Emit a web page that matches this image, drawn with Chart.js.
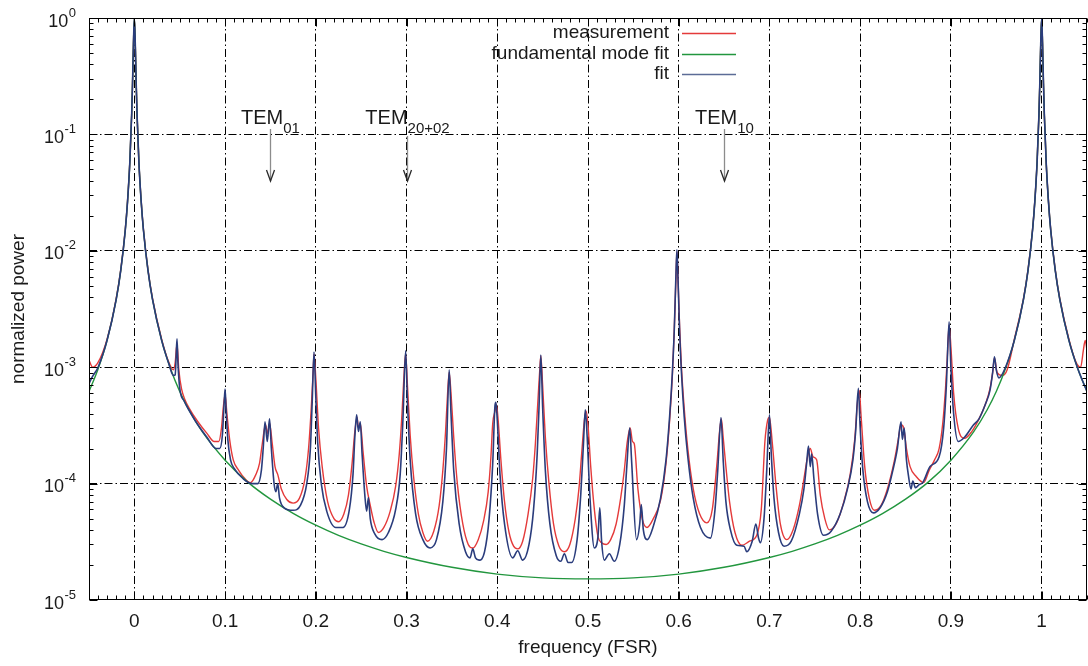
<!DOCTYPE html>
<html>
<head>
<meta charset="utf-8">
<script src="https://cdn.jsdelivr.net/npm/chart.js@4/dist/chart.umd.min.js"></script>
<style>
html,body{margin:0;padding:0;background:#fff;}
#wrap{width:1088px;height:666px;}
</style>
</head>
<body>
<div id="wrap"><canvas id="c" width="1088" height="666"></canvas></div>
<script>
// ---------------- data ----------------
const seriesNames = ['measurement', 'fundamental mode fit', 'fit'];

const xTickValues = [0, 0.1, 0.2, 0.3, 0.4, 0.5, 0.6, 0.7, 0.8, 0.9, 1];
const xTickLabels = ['0', '0.1', '0.2', '0.3', '0.4', '0.5', '0.6', '0.7', '0.8', '0.9', '1'];
const yTickValues = [1e-5, 1e-4, 1e-3, 1e-2, 1e-1, 1];
const yTickExponents = ['-5', '-4', '-3', '-2', '-1', '0'];

const annotFreq = [0.15, 0.3, 0.65];
const annotMain = ['TEM', 'TEM', 'TEM'];
const annotSub = ['01', '20+02', '10'];

// fundamental mode fit (green)
const fundFreq = [
  -0.05,-0.04,-0.03,-0.02,-0.015,-0.01,-0.0075,-0.005,-0.003,-0.002,
  -0.001,0,0.001,0.002,0.003,0.005,0.0075,0.01,0.015,0.02,
  0.03,0.04,0.05,0.06,0.075,0.1,0.125,0.15,0.175,0.2,
  0.225,0.25,0.275,0.3,0.35,0.4,0.45,0.5,0.55,0.6,
  0.65,0.7,0.725,0.75,0.775,0.8,0.825,0.85,0.875,0.9,
  0.925,0.94,0.95,0.96,0.97,0.98,0.985,0.99,0.9925,0.995,
  0.997,0.998,0.999,1,1.001,1.002,1.003,1.005,1.0075,1.01,
  1.015,1.02,1.03,1.04,1.05
];
const fundPower = [
  6.18e-4,9.64e-4,1.71e-3,3.83e-3,6.78e-3,1.51e-2,2.66e-2,5.78e-2,0.146,0.277,
  0.605,1,0.605,0.277,0.146,5.78e-2,2.66e-2,1.51e-2,6.78e-3,3.83e-3,
  1.71e-3,9.64e-4,6.18e-4,4.31e-4,2.78e-4,1.59e-4,1.03e-4,7.35e-5,5.55e-5,4.39e-5,
  3.59e-5,3.03e-5,2.62e-5,2.32e-5,1.91e-5,1.67e-5,1.55e-5,1.52e-5,1.55e-5,1.67e-5,
  1.91e-5,2.32e-5,2.62e-5,3.03e-5,3.59e-5,4.39e-5,5.55e-5,7.35e-5,1.03e-4,1.59e-4,
  2.78e-4,4.31e-4,6.18e-4,9.64e-4,1.71e-3,3.83e-3,6.78e-3,1.51e-2,2.66e-2,5.78e-2,
  0.146,0.277,0.605,1,0.605,0.277,0.146,5.78e-2,2.66e-2,1.51e-2,
  6.78e-3,3.83e-3,1.71e-3,9.64e-4,6.18e-4
];

// fit (blue)
const fitFreq = [
  -0.05,-0.047,-0.04,-0.03,-0.02,-0.015,-0.01,-0.0075,-0.005,-0.003,
  -0.002,-0.001,0,0.001,0.002,0.003,0.005,0.0075,0.01,0.015,
  0.02,0.03,0.038,0.043,0.045,0.046,0.047,0.048,0.05,0.055,
  0.06,0.07,0.08,0.09,0.094,0.097,0.099,0.1,0.101,0.103,
  0.106,0.11,0.12,0.13,0.136,0.14,0.142,0.144,0.1465,0.149,
  0.151,0.154,0.156,0.158,0.16,0.165,0.175,0.183,0.19,0.194,
  0.196,0.198,0.2,0.202,0.206,0.212,0.222,0.23,0.237,0.241,
  0.243,0.245,0.247,0.249,0.251,0.254,0.256,0.258,0.26,0.265,
  0.273,0.28,0.288,0.293,0.296,0.299,0.301,0.304,0.31,0.318,
  0.326,0.333,0.34,0.344,0.347,0.349,0.352,0.358,0.365,0.37,
  0.373,0.376,0.38,0.386,0.391,0.395,0.3975,0.3985,0.4,0.403,
  0.408,0.417,0.4225,0.428,0.435,0.44,0.444,0.446,0.448,0.45,
  0.453,0.458,0.465,0.47,0.474,0.478,0.482,0.488,0.492,0.495,
  0.497,0.499,0.502,0.507,0.511,0.513,0.515,0.518,0.5235,0.529,
  0.535,0.54,0.543,0.546,0.548,0.5535,0.557,0.5587,0.561,0.5653,
  0.572,0.58,0.586,0.59,0.593,0.595,0.597,0.598,0.599,0.601,
  0.603,0.606,0.61,0.616,0.624,0.635,0.64,0.643,0.6466,0.649,
  0.652,0.657,0.664,0.672,0.675,0.681,0.685,0.688,0.69,0.694,
  0.697,0.7,0.702,0.705,0.71,0.716,0.724,0.733,0.738,0.741,
  0.743,0.745,0.7465,0.749,0.753,0.7596,0.768,0.778,0.786,0.792,
  0.795,0.798,0.8,0.803,0.808,0.8145,0.822,0.83,0.836,0.841,
  0.845,0.8465,0.8485,0.851,0.853,0.856,0.858,0.861,0.865,0.869,
  0.877,0.887,0.892,0.895,0.898,0.9,0.903,0.908,0.915,0.925,
  0.931,0.938,0.943,0.946,0.948,0.95,0.953,0.96,0.97,0.98,
  0.985,0.99,0.9925,0.995,0.997,0.998,0.999,1,1.001,1.002,
  1.003,1.005,1.0075,1.01,1.015,1.02,1.03,1.04,1.05
];
const fitPower = [
  7.2e-4,8.1e-4,1.0e-3,1.71e-3,3.83e-3,6.78e-3,1.51e-2,2.66e-2,5.78e-2,0.146,
  0.277,0.605,1.0,0.605,0.277,0.146,5.78e-2,2.66e-2,1.51e-2,6.78e-3,
  3.83e-3,1.71e-3,1.07e-3,8.5e-4,8.6e-4,1.2e-3,1.75e-3,1.1e-3,6.6e-4,5.1e-4,
  4.31e-4,3.2e-4,2.5e-4,2.0e-4,2.0e-4,2.6e-4,5.0e-4,6.5e-4,4.5e-4,2.4e-4,
  1.6e-4,1.35e-4,1.1e-4,1.0e-4,1.0e-4,1.3e-4,2.0e-4,3.4e-4,2.3e-4,3.6e-4,
  2.0e-4,1.0e-4,8.5e-5,1.0e-4,7.5e-5,6.2e-5,5.9e-5,6.5e-5,1.0e-4,2.0e-4,
  5.0e-4,1.35e-3,5.5e-4,2.3e-4,1.0e-4,5.8e-5,4.2e-5,4.2e-5,6.0e-5,1.2e-4,
  2.5e-4,3.9e-4,2.8e-4,3.4e-4,1.8e-4,8.0e-5,5.8e-5,7.6e-5,5.0e-5,3.7e-5,
  3.3e-5,3.8e-5,6.0e-5,1.2e-4,3.5e-4,1.38e-3,5.0e-4,1.6e-4,5.5e-5,3.3e-5,
  2.8e-5,3.3e-5,7.0e-5,2.0e-4,9.5e-4,4.0e-4,1.3e-4,4.5e-5,2.6e-5,2.3e-5,
  2.75e-5,2.3e-5,2.2e-5,2.6e-5,5.0e-5,1.5e-4,4.7e-4,5.0e-4,3.5e-4,1.2e-4,
  4.5e-5,2.3e-5,2.65e-5,2.2e-5,3.0e-5,6.0e-5,1.8e-4,4.5e-4,1.27e-3,4.5e-4,
  1.3e-4,4.5e-5,2.4e-5,2.15e-5,2.5e-5,2.1e-5,2.1e-5,3.3e-5,8.0e-5,2.2e-4,
  4.3e-4,2.6e-4,8.0e-5,2.8e-5,3.5e-5,6.2e-5,3.2e-5,2.2e-5,2.5e-5,2.15e-5,
  3.0e-5,6.5e-5,1.5e-4,3.0e-4,1.6e-4,3.3e-5,4.5e-5,6.6e-5,4.0e-5,3.3e-5,
  4.3e-5,7.5e-5,1.6e-4,3.8e-4,9.0e-4,2.0e-3,6.5e-3,1.02e-2,6.5e-3,2.0e-3,
  9.0e-4,3.8e-4,1.7e-4,7.5e-5,4.2e-5,3.4e-5,6.0e-5,1.3e-4,3.7e-4,1.6e-4,
  7.0e-5,4.0e-5,2.95e-5,2.9e-5,2.6e-5,3.2e-5,4.5e-5,3.4e-5,3.1e-5,5.0e-5,
  1.3e-4,3.9e-4,1.8e-4,7.5e-5,3.8e-5,2.9e-5,3.2e-5,5.5e-5,9.0e-5,1.5e-4,
  2.1e-4,1.4e-4,1.8e-4,1.1e-4,5.5e-5,3.6e-5,3.9e-5,5.5e-5,9.0e-5,1.6e-4,
  2.8e-4,6.6e-4,3.0e-4,1.3e-4,7.0e-5,5.6e-5,6.2e-5,8.5e-5,1.3e-4,2.0e-4,
  3.4e-4,2.4e-4,3.0e-4,1.6e-4,1.2e-4,9.0e-5,1.05e-4,9.2e-5,9.8e-5,1.02e-4,
  1.4e-4,1.7e-4,3.0e-4,7.0e-4,2.45e-3,1.0e-3,4.0e-4,2.3e-4,2.5e-4,3.2e-4,
  3.6e-4,4.8e-4,6.3e-4,9.0e-4,1.23e-3,9.5e-4,8.1e-4,9.9e-4,1.71e-3,3.83e-3,
  6.78e-3,1.51e-2,2.66e-2,5.78e-2,0.146,0.277,0.605,1.0,0.605,0.277,
  0.146,5.78e-2,2.66e-2,1.51e-2,6.78e-3,3.83e-3,1.71e-3,9.64e-4,6.18e-4
];

// measurement (red)
const measFreq = [
  -0.05,-0.046,-0.04,-0.03,-0.02,-0.015,-0.01,-0.0075,-0.005,-0.003,
  -0.002,-0.001,0,0.001,0.002,0.003,0.005,0.0075,0.01,0.015,
  0.02,0.03,0.038,0.043,0.045,0.047,0.049,0.052,0.056,0.06,
  0.07,0.08,0.088,0.093,0.096,0.098,0.1,0.102,0.105,0.109,
  0.115,0.122,0.128,0.134,0.138,0.141,0.1445,0.147,0.149,0.152,
  0.155,0.158,0.162,0.168,0.175,0.182,0.188,0.192,0.195,0.197,
  0.198,0.2,0.203,0.207,0.213,0.22,0.225,0.231,0.236,0.24,
  0.243,0.2455,0.247,0.249,0.252,0.256,0.26,0.264,0.269,0.275,
  0.282,0.288,0.292,0.295,0.297,0.299,0.301,0.304,0.308,0.313,
  0.318,0.323,0.33,0.336,0.34,0.343,0.345,0.347,0.349,0.352,
  0.356,0.362,0.368,0.373,0.379,0.385,0.39,0.393,0.395,0.3975,
  0.399,0.401,0.404,0.408,0.413,0.418,0.4226,0.428,0.434,0.439,
  0.442,0.445,0.447,0.448,0.45,0.453,0.457,0.462,0.468,0.474,
  0.48,0.486,0.49,0.493,0.496,0.498,0.5,0.503,0.507,0.511,
  0.515,0.52,0.525,0.531,0.536,0.54,0.543,0.5465,0.549,0.551,
  0.555,0.56,0.565,0.572,0.58,0.586,0.59,0.593,0.595,0.597,
  0.598,0.599,0.601,0.603,0.606,0.61,0.616,0.623,0.631,0.637,
  0.642,0.645,0.647,0.649,0.652,0.656,0.662,0.6696,0.678,0.686,
  0.691,0.695,0.698,0.7,0.703,0.707,0.712,0.719,0.726,0.733,
  0.738,0.742,0.745,0.748,0.752,0.756,0.761,0.766,0.774,0.782,
  0.789,0.794,0.797,0.799,0.801,0.805,0.81,0.8156,0.823,0.83,
  0.8375,0.842,0.845,0.848,0.851,0.855,0.8617,0.87,0.876,0.882,
  0.887,0.891,0.894,0.896,0.898,0.9,0.903,0.908,0.915,0.923,
  0.931,0.938,0.943,0.946,0.948,0.951,0.957,0.962,0.97,0.98,
  0.985,0.99,0.9925,0.995,0.997,0.998,0.999,1,1.001,1.002,
  1.003,1.005,1.0075,1.01,1.015,1.02,1.03,1.038,1.043,1.046,
  1.048,1.05
];
const measPower = [
  1.15e-3,1.0e-3,1.1e-3,1.75e-3,3.9e-3,6.9e-3,1.53e-2,2.7e-2,5.8e-2,0.146,
  0.277,0.6,0.98,0.6,0.277,0.146,5.8e-2,2.7e-2,1.53e-2,6.9e-3,
  3.9e-3,1.75e-3,1.1e-3,9.5e-4,1.1e-3,1.6e-3,9.5e-4,6.5e-4,5.2e-4,4.5e-4,
  3.4e-4,2.7e-4,2.3e-4,2.3e-4,3.0e-4,4.5e-4,5.8e-4,4.0e-4,2.4e-4,1.6e-4,
  1.3e-4,1.1e-4,1.02e-4,1.2e-4,1.5e-4,2.2e-4,3.2e-4,2.7e-4,3.3e-4,2.2e-4,
  1.4e-4,1.2e-4,9.0e-5,7.3e-5,6.8e-5,7.5e-5,1.1e-4,2.0e-4,4.5e-4,9.0e-4,
  1.3e-3,8.0e-4,3.0e-4,1.4e-4,7.0e-5,5.0e-5,4.7e-5,5.5e-5,8.0e-5,1.5e-4,
  2.8e-4,3.7e-4,3.0e-4,3.3e-4,1.9e-4,9.5e-5,6.5e-5,4.7e-5,3.8e-5,4.2e-5,
  5.8e-5,9.5e-5,1.8e-4,4.0e-4,8.0e-4,1.3e-3,7.0e-4,2.6e-4,1.1e-4,5.5e-5,
  3.8e-5,3.2e-5,3.9e-5,6.5e-5,1.3e-4,2.8e-4,5.5e-4,9.0e-4,6.0e-4,2.5e-4,
  1.0e-4,4.5e-5,3.0e-5,2.8e-5,3.3e-5,4.8e-5,8.5e-5,1.7e-4,3.3e-4,4.2e-4,
  4.8e-4,3.5e-4,1.6e-4,7.0e-5,3.8e-5,2.9e-5,2.75e-5,3.2e-5,5.5e-5,1.1e-4,
  2.2e-4,5.5e-4,1.0e-3,1.25e-3,7.0e-4,2.5e-4,1.0e-4,4.5e-5,2.9e-5,2.6e-5,
  3.0e-5,5.0e-5,9.0e-5,1.8e-4,3.5e-4,4.2e-4,3.2e-4,1.4e-4,6.0e-5,3.5e-5,
  3.1e-5,3.0e-5,3.3e-5,4.5e-5,7.5e-5,1.3e-4,2.2e-4,3.0e-4,2.3e-4,2.2e-4,
  9.0e-5,4.9e-5,4.2e-5,5.0e-5,7.2e-5,1.5e-4,3.5e-4,8.5e-4,2.0e-3,6.0e-3,
  9.8e-3,6.5e-3,2.2e-3,1.0e-3,4.5e-4,2.0e-4,9.0e-5,5.5e-5,4.6e-5,6.0e-5,
  1.45e-4,2.8e-4,3.6e-4,2.5e-4,1.4e-4,7.0e-5,3.8e-5,2.95e-5,3.2e-5,3.6e-5,
  6.0e-5,2.3e-4,3.5e-4,3.7e-4,2.3e-4,1.0e-4,4.5e-5,3.3e-5,4.0e-5,6.5e-5,
  1.1e-4,1.7e-4,2.0e-4,1.7e-4,1.6e-4,8.0e-5,5.0e-5,4.0e-5,4.6e-5,7.0e-5,
  1.2e-4,2.4e-4,5.0e-4,6.3e-4,3.8e-4,1.4e-4,7.5e-5,5.9e-5,6.5e-5,9.0e-5,
  1.55e-4,2.4e-4,3.2e-4,3.0e-4,2.0e-4,1.4e-4,1.15e-4,1.02e-4,1.3e-4,1.6e-4,
  2.0e-4,3.3e-4,6.5e-4,1.2e-3,2.3e-3,1.5e-3,6.0e-4,3.0e-4,2.45e-4,2.8e-4,
  3.6e-4,4.8e-4,6.5e-4,9.0e-4,1.2e-3,9.0e-4,8.5e-4,9.5e-4,1.75e-3,3.9e-3,
  6.9e-3,1.53e-2,2.7e-2,5.8e-2,0.146,0.277,0.6,0.98,0.6,0.277,
  0.146,5.8e-2,2.7e-2,1.53e-2,6.9e-3,3.9e-3,1.75e-3,1.1e-3,1.0e-3,1.4e-3,
  1.7e-3,1.4e-3
];

// ---------------- styling ----------------
const FAM = "'Liberation Sans', Arial, Helvetica, sans-serif";
const TXT = '#1a1a1a';
const COL_MEAS = 'rgb(228,58,58)';
const COL_FUND = 'rgb(34,150,62)';
const COL_FIT = 'rgb(42,60,124)';
const GRID_DASH = [8, 3, 1.5, 3];

function pts(xs, ys) { return xs.map((v, i) => ({ x: v, y: ys[i] })); }

const decor = {
  id: 'decor',
  afterDraw(chart) {
    const { ctx, chartArea: a, scales: { x, y } } = chart;
    ctx.save();
    ctx.strokeStyle = '#000';
    ctx.lineWidth = 1;
    ctx.setLineDash([]);
    const L = Math.round(a.left) + 0.5, R = Math.round(a.right) - 0.5;
    const T = Math.round(a.top) + 0.5, B = Math.round(a.bottom) - 0.5;
    ctx.strokeRect(L, T, R - L, B - T);
    ctx.beginPath();
    for (let k = -5; k <= 105; k++) {
      const px = Math.round(x.getPixelForValue(k / 100)) + 0.5;
      const len = (k % 10 === 0) ? 8 : 4;
      ctx.moveTo(px, B); ctx.lineTo(px, B - len);
      ctx.moveTo(px, T); ctx.lineTo(px, T + len);
    }
    for (let e = -5; e <= 0; e++) {
      for (let m = 1; m <= 9; m++) {
        const v = m * Math.pow(10, e);
        if (v > 1.0000001) break;
        const py = Math.round(y.getPixelForValue(v)) + 0.5;
        const len = (m === 1) ? 8 : 4;
        ctx.moveTo(L, py); ctx.lineTo(L + len, py);
        ctx.moveTo(R, py); ctx.lineTo(R - len, py);
      }
    }
    ctx.stroke();

    // y tick labels 10^n
    ctx.fillStyle = TXT;
    ctx.textBaseline = 'alphabetic';
    for (let i = 0; i < yTickValues.length; i++) {
      const py = y.getPixelForValue(yTickValues[i]);
      const xr = a.left - 13;
      ctx.font = '13px ' + FAM;
      const ew = ctx.measureText(yTickExponents[i]).width;
      ctx.textAlign = 'left';
      ctx.fillText(yTickExponents[i], xr - ew, py - 1.5);
      ctx.font = '18px ' + FAM;
      ctx.textAlign = 'right';
      ctx.fillText('10', xr - ew - 0.5, py + 8.5);
    }

    // annotations
    for (let i = 0; i < annotFreq.length; i++) {
      const px = Math.round(x.getPixelForValue(annotFreq[i])) + 0.5;
      ctx.font = '20px ' + FAM;
      const w1 = ctx.measureText(annotMain[i]).width;
      ctx.font = '15px ' + FAM;
      const w2 = ctx.measureText(annotSub[i]).width;
      const x0 = px - (w1 + w2) / 2;
      ctx.textAlign = 'left';
      ctx.fillStyle = TXT;
      ctx.font = '20px ' + FAM;
      ctx.fillText(annotMain[i], x0, a.top + 106);
      ctx.font = '15px ' + FAM;
      ctx.fillText(annotSub[i], x0 + w1, a.top + 115);
      const overlap = (x0 + w1 <= px + 2) && (x0 + w1 + w2 >= px - 2);
      const yTop = a.top + (overlap ? 118 : 111);
      const yTip = a.top + 163;
      ctx.strokeStyle = '#8c8c8c';
      ctx.lineWidth = 1.3;
      ctx.beginPath();
      ctx.moveTo(px, yTop); ctx.lineTo(px, yTip);
      ctx.stroke();
      ctx.strokeStyle = '#2a2a2a';
      ctx.beginPath();
      ctx.moveTo(px - 4, yTip - 11); ctx.lineTo(px, yTip); ctx.lineTo(px + 4, yTip - 11);
      ctx.stroke();
    }

    // legend (gnuplot style: text then sample)
    const rows = [a.top + 15, a.top + 36, a.top + 56];
    const cols = [COL_MEAS, COL_FUND, 'rgb(92,108,150)'];
    ctx.font = '19px ' + FAM;
    ctx.textAlign = 'right';
    ctx.textBaseline = 'middle';
    for (let i = 0; i < seriesNames.length; i++) {
      ctx.fillStyle = TXT;
      ctx.fillText(seriesNames[i], 669, rows[i]);
      ctx.strokeStyle = cols[i];
      ctx.lineWidth = 1.6;
      ctx.beginPath();
      ctx.moveTo(682, Math.round(rows[i]) + 0.5);
      ctx.lineTo(736, Math.round(rows[i]) + 0.5);
      ctx.stroke();
    }
    ctx.restore();
  }
};

new Chart(document.getElementById('c'), {
  type: 'line',
  data: {
    datasets: [
      { label: seriesNames[2], data: pts(fitFreq, fitPower), borderColor: COL_FIT,
        borderWidth: 1.6, pointRadius: 0, cubicInterpolationMode: 'monotone', order: 0 },
      { label: seriesNames[1], data: pts(fundFreq, fundPower), borderColor: COL_FUND,
        borderWidth: 1.4, pointRadius: 0, cubicInterpolationMode: 'monotone', order: 1 },
      { label: seriesNames[0], data: pts(measFreq, measPower), borderColor: COL_MEAS,
        borderWidth: 1.4, pointRadius: 0, cubicInterpolationMode: 'monotone', order: 2 }
    ]
  },
  options: {
    responsive: false,
    animation: false,
    devicePixelRatio: 1,
    layout: { padding: { top: 18, right: 1, left: 0, bottom: 0 } },
    plugins: { legend: { display: false }, tooltip: { enabled: false } },
    scales: {
      x: {
        type: 'linear',
        min: -0.05, max: 1.05,
        afterBuildTicks: s => { s.ticks = xTickValues.map(v => ({ value: v })); },
        afterFit: s => { s.height = 66; },
        ticks: {
          callback: (v, i) => xTickLabels[i],
          font: { family: FAM, size: 19 }, color: TXT,
          padding: 10, maxRotation: 0, autoSkip: false
        },
        grid: { color: '#000', lineWidth: 1, drawTicks: false },
        border: { display: false, dash: GRID_DASH },
        title: { display: true, text: 'frequency (FSR)', font: { family: FAM, size: 19 },
                 color: TXT, padding: { top: 0, bottom: 7 } }
      },
      y: {
        type: 'logarithmic',
        min: 1e-5, max: 1,
        afterBuildTicks: s => { s.ticks = yTickValues.map(v => ({ value: v, major: true })); },
        afterFit: s => { s.width = 89; },
        ticks: { display: false },
        grid: {
          color: c => (c.tick && (c.tick.value >= 0.999 || c.tick.value <= 1.0001e-5)) ? 'rgba(0,0,0,0)' : '#000',
          lineWidth: 1, drawTicks: false
        },
        border: { display: false, dash: GRID_DASH },
        title: { display: true, text: 'normalized power', font: { family: FAM, size: 19 },
                 color: TXT, padding: { top: 7, bottom: 0 } }
      }
    }
  },
  plugins: [decor]
});
</script>
</body>
</html>
